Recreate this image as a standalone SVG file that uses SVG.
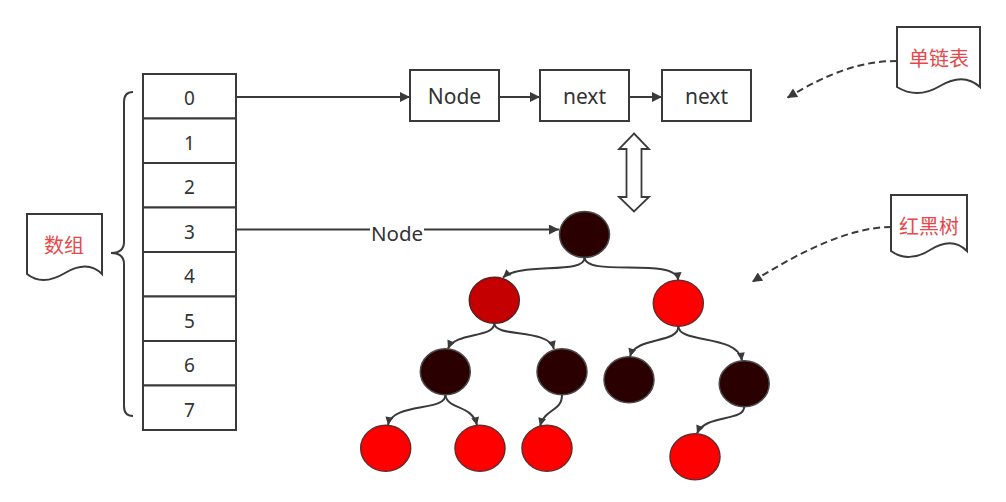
<svg xmlns="http://www.w3.org/2000/svg" width="1006" height="502" viewBox="0 0 1006 502">
<style>
.cell{fill:#fff;stroke:#3a3a3a;stroke-width:2}
.box{fill:#fff;stroke:#3a3a3a;stroke-width:2}
.t{font-family:"Noto Sans","Open Sans","Liberation Sans",sans-serif;fill:#333;text-anchor:middle}
.d{font-size:19px}
.b{font-size:21px}
.cn{font-family:"Noto Sans CJK SC","Noto Sans",sans-serif;font-size:20px;fill:#e8474a;text-anchor:middle}
.doc{fill:#fff;stroke:#3a3a3a;stroke-width:2}
.ln{fill:none;stroke:#3a3a3a;stroke-width:2}
.dash{fill:none;stroke:#3a3a3a;stroke-width:2;stroke-dasharray:7 4}
.blk{fill:#2a0000;stroke:#4a4a4a;stroke-width:1.5}
.red{fill:#ff0000;stroke:#6a2a2a;stroke-width:1.5}
.dred{fill:#c40000;stroke:#5a2020;stroke-width:1.5}
</style>
<defs>
<marker id="ah" viewBox="0 0 10 10" refX="10" refY="5" markerWidth="10" markerHeight="8" markerUnits="userSpaceOnUse" orient="auto">
<path d="M0,0 L10,5 L0,10 Z" fill="#3a3a3a"/>
</marker>
<marker id="ah2" viewBox="0 0 10 10" refX="10" refY="5" markerWidth="13" markerHeight="10" markerUnits="userSpaceOnUse" orient="auto">
<path d="M0,0 L10,5 L0,10 Z" fill="#3a3a3a"/>
</marker>
</defs>
<rect width="1006" height="502" fill="#fff"/>

<g id="array">
<rect class="cell" x="143" y="74" width="93" height="44.5"/>
<rect class="cell" x="143" y="118.5" width="93" height="44.5"/>
<rect class="cell" x="143" y="163" width="93" height="44.5"/>
<rect class="cell" x="143" y="207.5" width="93" height="44.5"/>
<rect class="cell" x="143" y="252" width="93" height="44.5"/>
<rect class="cell" x="143" y="296.5" width="93" height="44.5"/>
<rect class="cell" x="143" y="341" width="93" height="44.5"/>
<rect class="cell" x="143" y="385.5" width="93" height="44.5"/>
<text class="t d" x="189.5" y="105">0</text>
<text class="t d" x="189.5" y="149.5">1</text>
<text class="t d" x="189.5" y="194">2</text>
<text class="t d" x="189.5" y="238.5">3</text>
<text class="t d" x="189.5" y="283">4</text>
<text class="t d" x="189.5" y="327.5">5</text>
<text class="t d" x="189.5" y="372">6</text>
<text class="t d" x="189.5" y="416.5">7</text>
</g>

<g id="brace">
<path class="ln" stroke-width="1.8" d="M133,92 Q124,92 124,102 V242 Q124,253 111,253 Q124,253 124,264 V406 Q124,416 133,416"/>
</g>

<g id="doc-array">
<path class="doc" d="M27,214 H102 V274 C92,264 80,264 65,273 C50,282 37,282 27,274 Z"/>
<text class="cn" x="64" y="253">数组</text>
</g>

<g id="doc-list">
<path class="doc" d="M897,27 H980 V87 C969,77 955,77 940,86 C925,95 910,95 897,87 Z"/>
<text class="cn" x="939" y="66">单链表</text>
</g>

<g id="doc-tree">
<path class="doc" d="M891,195 H967 V251 C957,241 944,241 930,250 C916,259 902,259 891,251 Z"/>
<text class="cn" x="929" y="234">红黑树</text>
</g>

<g id="node-head">
<rect class="box" x="410" y="70" width="89" height="51"/>
<text class="t b" x="454.5" y="104">Node</text>
</g>
<g id="node-next1">
<rect class="box" x="540" y="70" width="89" height="51"/>
<text class="t b" x="584.5" y="104">next</text>
</g>
<g id="node-next2">
<rect class="box" x="662" y="70" width="89" height="51"/>
<text class="t b" x="706.5" y="104">next</text>
</g>

<g id="double-arrow">
<path d="M634,133.5 L649,149 L641.5,149 L641.5,197 L649,197 L634,211.5 L619,197 L626.5,197 L626.5,149 L619,149 Z" fill="#fff" stroke="#3a3a3a" stroke-width="1.8" stroke-linejoin="miter"/>
</g>

<g id="tree-root"><ellipse class="blk" cx="584.5" cy="234.5" rx="25" ry="23"/></g>
<g id="tree-l1a"><ellipse class="dred" cx="494.3" cy="300.3" rx="25" ry="23"/></g>
<g id="tree-l1b"><ellipse class="red" cx="678.3" cy="303.3" rx="25" ry="23"/></g>
<g id="tree-l2a"><ellipse class="blk" cx="445.3" cy="371.7" rx="25" ry="23"/></g>
<g id="tree-l2b"><ellipse class="blk" cx="562" cy="371.7" rx="25" ry="23"/></g>
<g id="tree-l2c"><ellipse class="blk" cx="629" cy="379.7" rx="25" ry="23"/></g>
<g id="tree-l2d"><ellipse class="blk" cx="744.2" cy="383.7" rx="25" ry="23"/></g>
<g id="tree-l3a"><ellipse class="red" cx="385.7" cy="448.3" rx="25" ry="23"/></g>
<g id="tree-l3b"><ellipse class="red" cx="480" cy="448.3" rx="25" ry="23"/></g>
<g id="tree-l3c"><ellipse class="red" cx="547" cy="448.3" rx="25" ry="23"/></g>
<g id="tree-l3d"><ellipse class="red" cx="695" cy="456.7" rx="25" ry="23"/></g>

<g id="connectors">
<line class="ln" x1="236" y1="97" x2="410" y2="97" marker-end="url(#ah2)"/>
<line class="ln" x1="499" y1="97" x2="540" y2="97" marker-end="url(#ah2)"/>
<line class="ln" x1="629" y1="97" x2="662" y2="97" marker-end="url(#ah2)"/>
<line class="ln" x1="236" y1="229.5" x2="370" y2="229.5"/>
<text class="t" font-size="20.5" x="397" y="240.5">Node</text>
<line class="ln" x1="424" y1="229.5" x2="559" y2="229.5" marker-end="url(#ah2)"/>
<path class="dash" d="M897,61 C862,61 830,72 787,98" marker-end="url(#ah2)"/>
<path class="dash" d="M891,227 C852,227 802,250 752,282" marker-end="url(#ah2)"/>
<path class="ln" d="M584.5,257.5 C586,275 520,262 503,277.5" marker-end="url(#ah)"/>
<path class="ln" d="M584.5,257.5 C586,278 676,256 678.3,280.3" marker-end="url(#ah)"/>
<path class="ln" d="M494.3,323.3 C495,338 455,332 448,348.5" marker-end="url(#ah)"/>
<path class="ln" d="M494.3,323.3 C495,338 548,328 554,349" marker-end="url(#ah)"/>
<path class="ln" d="M678.3,326.3 C679,344 636,336 630,356.5" marker-end="url(#ah)"/>
<path class="ln" d="M678.3,326.3 C679,344 738,334 742,360.7" marker-end="url(#ah)"/>
<path class="ln" d="M445.3,394.7 C447,412 392,402 388,425" marker-end="url(#ah)"/>
<path class="ln" d="M445.3,394.7 C447,410 472,404 477,425.3" marker-end="url(#ah)"/>
<path class="ln" d="M562,394.7 C562,412 545,408 540,426" marker-end="url(#ah)"/>
<path class="ln" d="M744.2,406.7 C744,422 705,414 697,433.5" marker-end="url(#ah)"/>
</g>
</svg>
